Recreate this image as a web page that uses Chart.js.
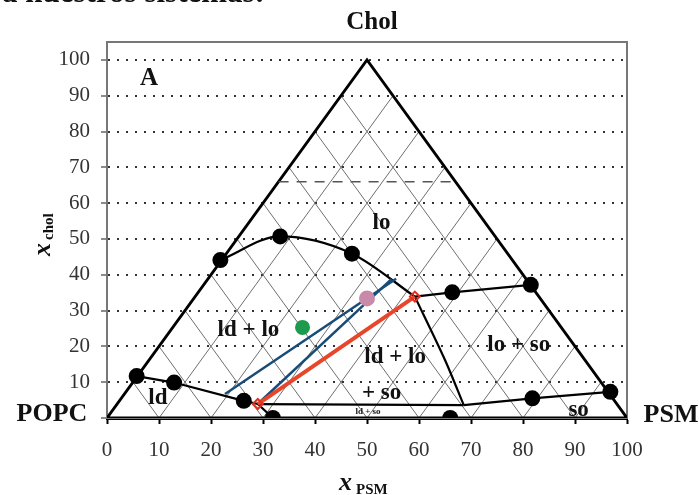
<!DOCTYPE html>
<html>
<head>
<meta charset="utf-8">
<script src="https://cdn.jsdelivr.net/npm/chart.js@4"></script>
<style>
  body { margin: 0; background: #fff; }
  #wrap { position: relative; width: 699px; height: 495px; overflow: hidden; }
  #cut { position: absolute; left: 2px; top: -26px; font: bold 31px "Liberation Serif"; white-space: nowrap; color: #111; }
</style>
</head>
<body>
<div id="wrap">
  <div id="cut">a nuestros sistemas:</div>
  <canvas id="chart"></canvas>
</div>
<script>
// ejes
const xTicks = [0, 10, 20, 30, 40, 50, 60, 70, 80, 90, 100]
const yTicks = [0, 10, 20, 30, 40, 50, 60, 70, 80, 90, 100]
const gridSteps = [10, 20, 30, 40, 50, 60, 70, 80, 90]

// vértices del triángulo (x = x_PSM + x_chol/2, y = x_chol)
const triangle = [[0, 0], [50, 100], [100, 0], [0, 0]]

// límites de fase
const loCurve = [[21.8, 44.1], [33.3, 50.7], [47.1, 45.9], [59.2, 33.9]]
const loDown = [[59.2, 33.9], [65.0, 16.2], [68.6, 3.6]]
const ldLine = [[5.7, 11.7], [12.9, 9.9], [26.3, 4.8], [29.0, 3.9], [31.9, 0]]
const threePhase = [[29.0, 3.9], [68.6, 3.6]]
const soLine = [[68.6, 3.6], [81.8, 5.5], [96.8, 7.3]]
const loSoLine = [[59.2, 33.9], [66.4, 35.1], [81.5, 37.2]]
const dashed66 = [[33, 66], [67, 66]]

// puntos experimentales
const blackDots = [[5.7, 11.7], [12.9, 9.9], [21.8, 44.1], [33.3, 50.7], [47.1, 45.9],
  [26.3, 4.8], [31.9, 0], [66.0, 0], [66.4, 35.1], [81.5, 37.2], [81.8, 5.5], [96.8, 7.3]]
const greenDot = [[37.6, 25.3]]
const pinkDot = [[50.0, 33.4]]

// líneas de reparto
const redTie = [[29.0, 3.9], [59.2, 33.9]]
const blueTie1 = [[22.7, 6.7], [55.6, 38.9]]
const blueTie2 = [[29.5, 4.6], [54.7, 38.8]]

// etiquetas de regiones [texto, x, y]
const regionLabels = [
  ["lo", 52.8, 54.5],
  ["ld + lo", 27.2, 24.6],
  ["ld + lo", 55.4, 17],
  ["+ so", 52.8, 7],
  ["lo + so", 79.2, 20.4],
  ["ld", 9.8, 5.6],
  ["so", 90.7, 2.2]
]

const pts = arr => arr.map(p => ({ x: p[0], y: p[1] }))
const line = (data, color, width, order, extra) => Object.assign({
  data: pts(data), showLine: true, borderColor: color, borderWidth: width,
  pointRadius: 0, tension: 0, order: order
}, extra || {})

// rejilla del triángulo
const gridSets = []
gridSteps.forEach(k => {
  gridSets.push(line([[k / 2, k], [k, 0]], "#4a4a4a", 0.8, 6))
  gridSets.push(line([[100 - k / 2, k], [100 - k, 0]], "#4a4a4a", 0.8, 6))
})

const serif = "'Liberation Serif', 'Times New Roman', serif"

const textPlugin = {
  id: "texts",
  beforeDatasetsDraw(chart) {
    const { ctx, chartArea: a } = chart
    ctx.save()
    ctx.strokeStyle = "#777"
    ctx.lineWidth = 2
    ctx.strokeRect(a.left, a.top, a.right - a.left, a.bottom - a.top)
    ctx.restore()
  },
  afterDatasetsDraw(chart) {
    const { ctx, scales } = chart
    const sx = scales.x, sy = scales.y
    ctx.save()
    ctx.fillStyle = "#111"
    ctx.textAlign = "center"
    ctx.textBaseline = "middle"
    ctx.font = "bold 23px " + serif
    regionLabels.forEach(l => ctx.fillText(l[0], sx.getPixelForValue(l[1]), sy.getPixelForValue(l[2])))
    ctx.font = "bold 9px " + serif
    ctx.fillText("ld + so", sx.getPixelForValue(50.2), sy.getPixelForValue(1.9))
    ctx.font = "bold 25px " + serif
    ctx.fillText("A", 149, 79)
    ctx.fillText("Chol", 372, 23)
    ctx.font = "bold 26px " + serif
    ctx.fillText("POPC", 52, 414)
    ctx.fillText("PSM", 671, 415)
    // títulos de ejes
    ctx.textAlign = "left"
    ctx.textBaseline = "alphabetic"
    ctx.font = "italic bold 26px " + serif
    ctx.fillText("x", 339, 490)
    ctx.font = "bold 15px " + serif
    ctx.fillText("PSM", 356, 494)
    ctx.translate(50, 256)
    ctx.rotate(-Math.PI / 2)
    ctx.font = "italic bold 26px " + serif
    ctx.fillText("x", 0, 0)
    ctx.font = "bold 15px " + serif
    ctx.fillText("chol", 16, 3)
    ctx.restore()
  }
}

new Chart(document.getElementById("chart"), {
  type: "scatter",
  data: {
    datasets: [
      { data: pts(blackDots), pointRadius: 8, pointBackgroundColor: "#000", pointBorderWidth: 0, order: 1 },
      { data: pts(greenDot), pointRadius: 7.5, pointBackgroundColor: "#1e9a4c", pointBorderWidth: 0, order: 1 },
      { data: pts(pinkDot), pointRadius: 8, pointBackgroundColor: "#c98aa9", pointBorderWidth: 0, order: 1 },
      line(redTie, "#e8462b", 4, 2, {
        pointRadius: 5, pointStyle: "rectRot", pointBackgroundColor: "rgba(255,255,255,0)",
        pointBorderColor: "#e0301e", pointBorderWidth: 2
      }),
      line(blueTie1, "#184c78", 2.5, 3),
      line(blueTie2, "#184c78", 2.5, 3),
      line(loCurve, "#000", 2.2, 4, { cubicInterpolationMode: "monotone" }),
      line(loDown, "#000", 2.2, 4, { tension: 0.3 }),
      line(ldLine, "#000", 2.2, 4),
      line(threePhase, "#000", 2.2, 4),
      line(soLine, "#000", 2.2, 4),
      line(loSoLine, "#000", 2.2, 4),
      line(dashed66, "#555", 1.5, 4, { borderDash: [10, 8] }),
      line(triangle, "#000", 2.8, 5),
      ...gridSets
    ]
  },
  options: {
    responsive: true,
    maintainAspectRatio: false,
    animation: false,
    layout: { padding: { left: 0, right: 72, top: 42, bottom: 0 } },
    plugins: { legend: { display: false }, tooltip: { enabled: false } },
    scales: {
      x: {
        type: "linear", min: 0, max: 100,
        afterFit: s => { s.height = 77 },
        afterBuildTicks: s => { s.ticks = xTicks.map(v => ({ value: v })) },
        grid: { drawOnChartArea: false, tickLength: 6, tickColor: "#000", tickWidth: 2 },
        border: { color: "#000", width: 3 },
        ticks: { color: "#333", padding: 14, font: { family: serif, size: 21 } }
      },
      y: {
        type: "linear", min: 0, max: 105,
        afterFit: s => { s.width = 107 },
        afterBuildTicks: s => { s.ticks = yTicks.map(v => ({ value: v })) },
        grid: { color: "#333", lineWidth: 2, tickLength: 6, tickColor: "#666", tickWidth: 1.5 },
        border: { color: "#777", width: 2, dash: [2, 7] },
        ticks: {
          color: "#333", padding: 11, font: { family: serif, size: 21 },
          callback: v => (v === 0 ? "" : v)
        }
      }
    }
  },
  plugins: [textPlugin]
})
</script>
</body>
</html>
